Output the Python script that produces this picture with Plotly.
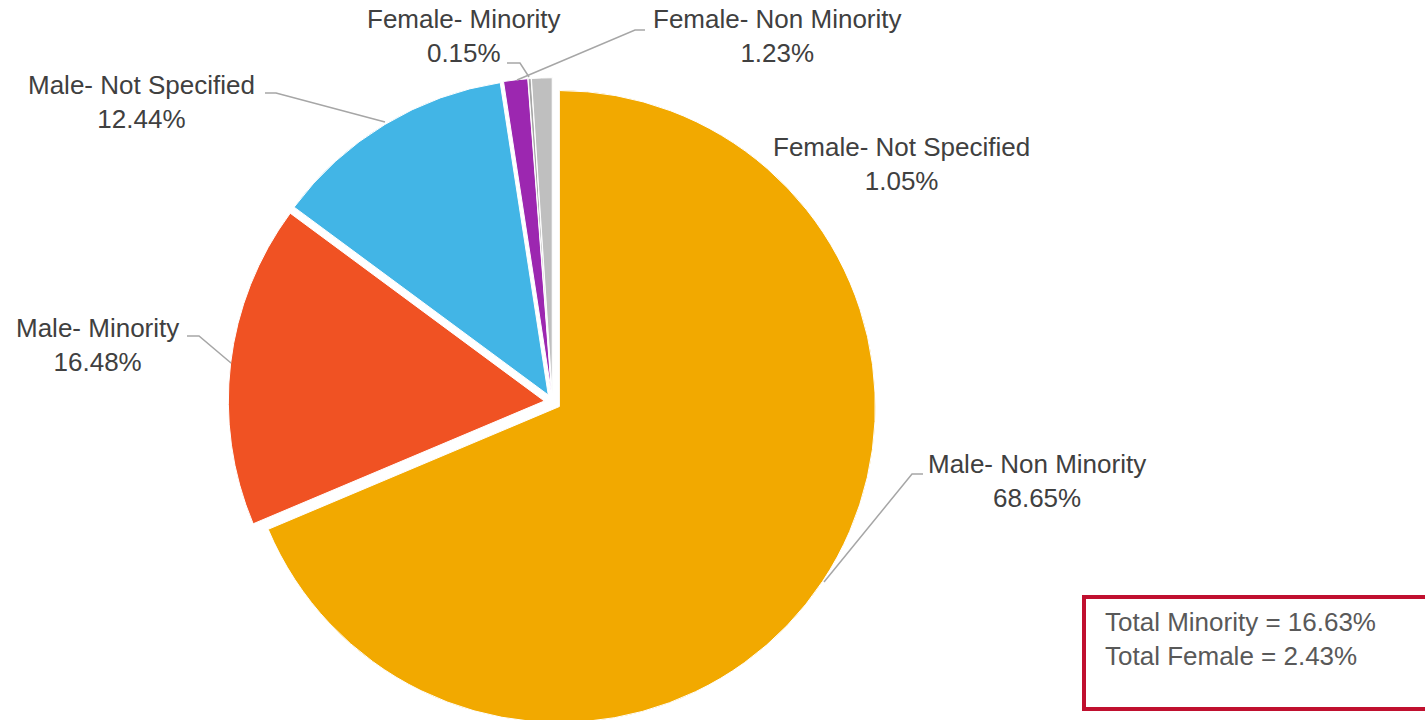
import plotly.graph_objects as go

W, H = 1425, 730  # page is clipped at 720 by the window; extra rows let the pie run to the bottom edge

# ---- data ----
categories = ["Male- Non Minority", "Male- Minority", "Male- Not Specified",
              "Female- Non Minority", "Female- Minority", "Female- Not Specified"]
shares = [68.65, 16.48, 12.44, 1.23, 0.15, 1.05]
slice_colors = ["#F2A900", "#F05223", "#42B5E6", "#9C27B0", "#A5A5A5", "#BFBFBF"]
summary_lines = ["Total Minority = 16.63%", "Total Female = 2.43%"]

# ---- label placement (pixel coordinates of label centers) ----
label_pos = {
    "Male- Non Minority": (1037, 481),
    "Male- Minority": (97, 345),
    "Male- Not Specified": (141, 102),
    "Female- Non Minority": (777, 36),
    "Female- Minority": (464, 36),
    "Female- Not Specified": (901, 164),
}
# leader lines (pixel coordinates)
leaders = [
    [(923, 474), (912, 474), (824, 582)],
    [(187, 336), (199, 336), (231, 363)],
    [(265, 93), (276, 93), (385, 122)],
    [(645, 30), (635, 30), (517, 80)],
    [(507, 63), (520, 63), (529, 77)],
]


def px(x):
    return x / W


def py(y):
    return 1 - y / H


# pie placement: centre px, radius px, explosion fraction
cx, cy, r, pull = 552.5, 402.0, 316.0, 0.026
rt = r * (1 + pull)

fig = go.Figure(go.Pie(
    labels=categories,
    values=shares,
    sort=False,
    direction="clockwise",
    rotation=0,
    pull=[pull] * len(shares),
    marker=dict(colors=slice_colors, line=dict(color="white", width=1)),
    textinfo="none",
    hoverinfo="label+percent",
    domain=dict(x=[px(cx - rt), px(cx + rt)], y=[py(cy + rt), py(cy - rt)]),
    showlegend=False,
))

font_lbl = dict(family="Arial, Liberation Sans, sans-serif", size=26, color="#404040")

annotations = []
for cat, val in zip(categories, shares):
    x, y = label_pos[cat]
    annotations.append(dict(
        x=px(x), y=py(y), xref="paper", yref="paper",
        text=f"{cat}<br>{val:.2f}%", showarrow=False,
        xanchor="center", yanchor="middle", align="center", font=font_lbl,
    ))

annotations.append(dict(
    x=px(1103), y=py(638.5), xref="paper", yref="paper",
    text="<br>".join(summary_lines), showarrow=False,
    xanchor="left", yanchor="middle", align="left",
    font=dict(family="Arial, Liberation Sans, sans-serif", size=26, color="#595959"),
))

shapes = []
for pts in leaders:
    path = "M " + " L ".join(f"{px(x)},{py(y)}" for x, y in pts)
    shapes.append(dict(type="path", path=path, xref="paper", yref="paper",
                       line=dict(color="#A6A6A6", width=1.5)))

shapes.append(dict(type="rect", xref="paper", yref="paper",
                   x0=px(1084), x1=px(1432), y0=py(709), y1=py(597),
                   line=dict(color="#C0102F", width=4), fillcolor="rgba(0,0,0,0)"))

fig.update_layout(
    width=W, height=H,
    margin=dict(l=0, r=0, t=0, b=0),
    paper_bgcolor="white", plot_bgcolor="white",
    annotations=annotations, shapes=shapes,
)

fig.write_html(
    "out.html",
    config={"displayModeBar": False},
    post_script="document.body.style.margin='0';"
                "document.body.style.overflow='hidden';"
                "document.documentElement.style.overflow='hidden';",
)
